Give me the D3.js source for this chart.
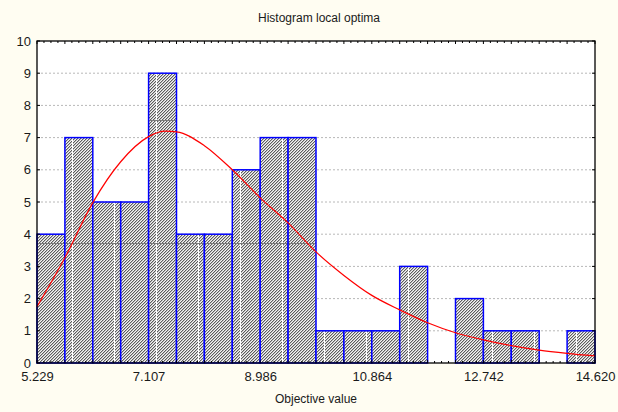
<!DOCTYPE html>
<html>
<head>
<meta charset="utf-8">
<script src="https://cdn.jsdelivr.net/npm/d3@7"></script>
<style>
  body { margin: 0; background: #fffdf2; }
  text { font-family: "Liberation Sans", Arial, sans-serif; fill: #1a1a1a; }
</style>
</head>
<body>
<svg id="chart" width="618" height="412"></svg>
<script>
// Histogram data
var xMin = 5.229, xMax = 14.620;
var counts = [4, 7, 5, 5, 9, 4, 4, 6, 7, 7, 1, 1, 1, 3, 0, 2, 1, 1, 0, 1];
var xTickLabels = ["5.229", "7.107", "8.986", "10.864", "12.742", "14.620"];
var yTicks = [0, 1, 2, 3, 4, 5, 6, 7, 8, 9, 10];

// Fitted curve at bin edges (edge index, expected count)
var curveEdge = [0, 1, 2, 3, 4, 4.6, 5, 6, 7, 8, 9, 10, 11, 12, 13, 14, 15, 16, 17, 18, 19, 20];
var curveVal = [1.75, 3.27, 4.98, 6.25, 7.03, 7.2, 7.18, 6.75, 6.0, 5.13, 4.35, 3.45, 2.72, 2.1, 1.65, 1.25, 0.94, 0.72, 0.54, 0.40, 0.30, 0.22];

var svg = d3.select("#chart");
var margin = { top: 41, right: 23, bottom: 49, left: 37 };
var width = 618 - margin.left - margin.right;
var height = 412 - margin.top - margin.bottom;

var nBins = counts.length;
var binW = (xMax - xMin) / nBins;

var x = d3.scaleLinear().domain([xMin, xMax]).range([margin.left, margin.left + width]);
var y = d3.scaleLinear().domain([0, 10]).range([margin.top + height, margin.top]);

// Hatch: fine 3px diagonal, tiled in a bigger cell with the seams seen in the original
var defs = svg.append("defs");
var base = defs.append("pattern")
    .attr("id", "fine")
    .attr("patternUnits", "userSpaceOnUse")
    .attr("width", 3).attr("height", 3);
base.append("rect").attr("width", 3).attr("height", 3).attr("fill", "#f4f4f4");
[[0, 2, "#5c5c5c"], [1, 1, "#5c5c5c"], [2, 0, "#5c5c5c"],
 [1, 2, "#bdbdbd"], [2, 1, "#bdbdbd"], [0, 0, "#bdbdbd"]].forEach(function (p) {
    base.append("rect").attr("x", p[0]).attr("y", p[1])
        .attr("width", 1).attr("height", 1).attr("fill", p[2]);
});

var pw = 42, ph = 123;
var pat = defs.append("pattern")
    .attr("id", "hatch")
    .attr("patternUnits", "userSpaceOnUse")
    .attr("width", pw).attr("height", ph)
    .attr("x", 72 % pw).attr("y", 243 % ph);
pat.append("rect").attr("width", pw).attr("height", ph).attr("fill", "url(#fine)");
pat.append("rect").attr("x", 0).attr("y", 0).attr("width", 1).attr("height", ph).attr("fill", "#ffffff");
pat.append("rect").attr("x", 0).attr("y", 0).attr("width", pw).attr("height", 1).attr("fill", "#7a7a7a");

// Plot background
svg.append("rect")
    .attr("x", margin.left).attr("y", margin.top)
    .attr("width", width).attr("height", height)
    .attr("fill", "#ffffff");

// Horizontal dotted grid
svg.append("g")
    .selectAll("line")
    .data(yTicks.slice(1, -1))
    .enter().append("line")
    .attr("x1", margin.left).attr("x2", margin.left + width)
    .attr("y1", d => y(d)).attr("y2", d => y(d))
    .attr("stroke", "#b8b8b8")
    .attr("stroke-dasharray", "2,2");

// Bars
svg.append("g")
    .selectAll("rect")
    .data(counts)
    .enter().append("rect")
    .attr("x", (d, i) => x(xMin + i * binW))
    .attr("y", d => y(d))
    .attr("width", (d, i) => x(xMin + (i + 1) * binW) - x(xMin + i * binW))
    .attr("height", d => y(0) - y(d))
    .attr("fill", "url(#hatch)")
    .attr("stroke", "#0000ff")
    .attr("stroke-width", 1.5);

// Fitted curve
var line = d3.line()
    .x((d, i) => x(xMin + curveEdge[i] * binW))
    .y(d => y(d))
    .curve(d3.curveMonotoneX);

svg.append("path")
    .datum(curveVal)
    .attr("fill", "none")
    .attr("stroke", "#ff0000")
    .attr("stroke-width", 1.2)
    .attr("d", line);

// Frame
svg.append("rect")
    .attr("x", margin.left).attr("y", margin.top)
    .attr("width", width).attr("height", height)
    .attr("fill", "none")
    .attr("stroke", "#000000")
    .attr("stroke-width", 1.3);

// Axes with inward ticks
var xMajor = xTickLabels.map(Number);
var xMinor = d3.range(0, nBins * 4 + 1).map(i => xMin + i * binW / 4);

var xBottom = d3.axisBottom(x).tickValues(xMajor).tickSize(0).tickPadding(9)
    .tickFormat((d, i) => xTickLabels[i]);
svg.append("g")
    .attr("transform", "translate(0," + (margin.top + height) + ")")
    .call(xBottom)
    .call(g => g.select(".domain").remove())
    .selectAll("text").attr("font-size", 13).attr("fill", "#1a1a1a")
    .attr("font-family", "Liberation Sans, Arial, sans-serif");

[margin.top + height, margin.top].forEach(function (yy, j) {
    svg.append("g")
        .selectAll("line")
        .data(xMinor)
        .enter().append("line")
        .attr("x1", d => x(d)).attr("x2", d => x(d))
        .attr("y1", yy)
        .attr("y2", (d, i) => yy + (j === 0 ? -1 : 1) * (i % 4 === 0 ? 3 : 2))
        .attr("stroke", "#000");
});

var yLeft = d3.axisLeft(y).tickValues(yTicks).tickSize(0).tickPadding(6);
svg.append("g")
    .attr("transform", "translate(" + margin.left + ",0)")
    .call(yLeft)
    .call(g => g.select(".domain").remove())
    .selectAll("text").attr("font-size", 13).attr("fill", "#1a1a1a")
    .attr("font-family", "Liberation Sans, Arial, sans-serif");

[margin.left, margin.left + width].forEach(function (xx, j) {
    svg.append("g")
        .selectAll("line")
        .data(yTicks)
        .enter().append("line")
        .attr("x1", xx).attr("x2", xx + (j === 0 ? 3 : -3))
        .attr("y1", d => y(d)).attr("y2", d => y(d))
        .attr("stroke", "#000");
});

// Titles
svg.append("text")
    .attr("x", 319).attr("y", 22)
    .attr("text-anchor", "middle")
    .attr("font-size", 12)
    .text("Histogram local optima");

svg.append("text")
    .attr("x", 316).attr("y", 403)
    .attr("text-anchor", "middle")
    .attr("font-size", 12)
    .text("Objective value");
</script>
</body>
</html>
